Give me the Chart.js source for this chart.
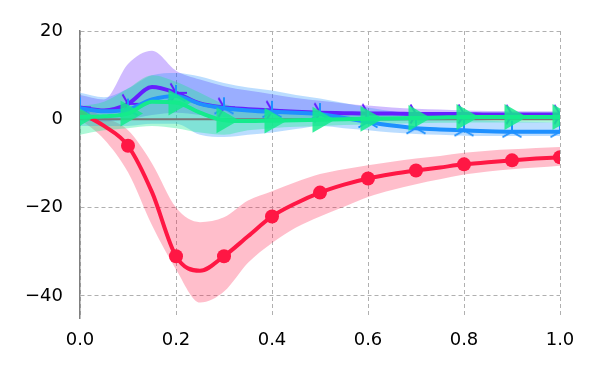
<!DOCTYPE html>
<html>
<head>
<meta charset="utf-8">
<script src="https://cdn.jsdelivr.net/npm/chart.js@4/dist/chart.umd.min.js"></script>
<style>
  html, body { margin: 0; padding: 0; background: #fff; }
  #wrap { width: 600px; height: 375px; }
</style>
</head>
<body>
<div id="wrap"><canvas id="chart" width="600" height="375"></canvas></div>
<script>
// x grid of the curves (markers sit on every other point)
const X = [0, 0.05, 0.1, 0.15, 0.2, 0.25, 0.3, 0.35, 0.4, 0.45, 0.5,
           0.55, 0.6, 0.65, 0.7, 0.75, 0.8, 0.85, 0.9, 0.95, 1.0];

const X_TICKS = [0, 0.2, 0.4, 0.6, 0.8, 1.0];
const Y_TICKS = [-40, -20, 0, 20];

// red (circles)
const redMean  = [1.5, -1.5, -6, -16.5, -31, -34.3, -31, -26.5, -22, -19, -16.6,
                  -14.8, -13.4, -12.4, -11.6, -10.9, -10.2, -9.7, -9.3, -8.9, -8.6];
const redUpper = [3, 0.5, -2.5, -10, -20, -23.3, -22.2, -18.4, -16.3, -14.2, -12.4,
                  -11.3, -10.4, -9.6, -8.9, -8.3, -7.6, -7.1, -6.8, -6.5, -6.3];
const redLower = [0, -4.5, -12, -24, -34, -41.5, -39, -32.5, -28, -24.5, -22,
                  -19.8, -17.6, -16, -14.7, -13.6, -12.5, -11.8, -11.3, -10.9, -10.5];

// purple (tri right)
const purpleMean  = [2.7, 2.0, 3.5, 7.3, 6.0, 3.6, 2.7, 2.3, 2.0, 1.7, 1.5,
                     1.4, 1.3, 1.3, 1.2, 1.2, 1.2, 1.1, 1.1, 1.1, 1.1];
const purpleUpper = [5.5, 4.5, 12.5, 15.5, 11, 9, 7.5, 6.5, 5.7, 4.8, 4.2,
                     3.6, 3.1, 2.7, 2.4, 2.2, 2, 1.9, 1.9, 1.8, 1.8];
const purpleLower = [0, -0.5, 0, 1, 1.5, 1, 0.5, 0, 0, 0, -0.2,
                     -0.3, -0.3, -0.3, -0.2, -0.2, -0.1, 0, 0, 0, 0];

// blue (tri up)
const blueMean  = [2.5, 1.8, 2.2, 4.5, 5.3, 3.5, 2.5, 2.0, 1.7, 1.5, 1.2,
                   0.3, -0.6, -1.4, -2.0, -2.3, -2.5, -2.7, -2.8, -2.8, -2.8];
const blueUpper = [6, 5, 7, 10, 10.5, 9.7, 8.2, 7.2, 6.5, 5.5, 4.7,
                   3.7, 2.7, 1.8, 1.0, 0.4, 0, -0.3, -0.5, -0.6, -0.7];
const blueLower = [-1.5, -1.5, -1.5, -1, -1, -3.5, -4, -3.5, -3, -2.2, -1.5,
                   -2, -2.5, -3, -3.3, -3.5, -3.7, -3.8, -3.8, -3.8, -3.8];

// green (triangles right)
const greenMean  = [0.5, 0.7, 1.3, 4.0, 3.8, 1.5, -0.2, -0.4, -0.3, -0.2, -0.1,
                    0, 0.1, 0.2, 0.3, 0.4, 0.5, 0.5, 0.5, 0.5, 0.5];
const greenUpper = [3, 4, 7, 10, 8.5, 6, 3.5, 2.3, 1.7, 1.3, 1.1,
                    1, 1.1, 1.2, 1.3, 1.4, 1.5, 1.5, 1.5, 1.5, 1.5];
const greenLower = [-3.5, -2.5, -2, -1.5, -2, -3, -3.5, -2.5, -2, -1.7, -1.5,
                    -1.3, -1.1, -1, -0.9, -0.8, -0.7, -0.7, -0.7, -0.7, -0.7];

const RED    = '#ff1744';
const PURPLE = '#651fff';
const BLUE   = '#1e90ff';
const GREEN  = '#14eb8c';

const pts = ys => X.map((x, i) => ({x, y: ys[i]}));
const everyOther = r => ctx => (ctx.dataIndex % 2 === 0 ? r : 0);

// tri markers (matplotlib style '2' and '4') drawn on small canvases
function triMarker(color, angles, arm) {
    const c = document.createElement('canvas');
    const s = Math.ceil(arm * 2 + 4);
    c.width = s; c.height = s;
    const g = c.getContext('2d');
    g.strokeStyle = color;
    g.lineWidth = 2;
    g.beginPath();
    angles.forEach(a => {
        const r = a * Math.PI / 180;
        g.moveTo(s / 2, s / 2);
        g.lineTo(s / 2 + Math.cos(r) * arm, s / 2 - Math.sin(r) * arm);
    });
    g.stroke();
    return c;
}
const triUp    = triMarker(BLUE,   [90, 210, 330], 11);
const triRight = triMarker(PURPLE, [0, 120, 240], 11);

function band(upper, lower, color, order) {
    return [
        { data: pts(upper), borderWidth: 0, pointRadius: 0, fill: '+1',
          backgroundColor: color, order, cubicInterpolationMode: 'monotone' },
        { data: pts(lower), borderWidth: 0, pointRadius: 0, fill: false,
          backgroundColor: color, order, cubicInterpolationMode: 'monotone' }
    ];
}

function line(ys, color, order, extra) {
    return Object.assign({
        data: pts(ys), borderColor: color, borderWidth: 4, fill: false,
        cubicInterpolationMode: 'monotone', order,
        pointHoverRadius: 0
    }, extra);
}

const datasets = [
    ...band(redUpper, redLower, 'rgba(255,23,68,0.28)', 8),
    ...band(purpleUpper, purpleLower, 'rgba(101,31,255,0.3)', 7),
    ...band(blueUpper, blueLower, 'rgba(30,144,255,0.3)', 6),
    ...band(greenUpper, greenLower, 'rgba(20,235,140,0.35)', 5),
    { data: [{x: 0, y: 0}, {x: 1, y: 0}], borderColor: '#777777', borderWidth: 2,
      pointRadius: 0, fill: false, order: 4 },
    line(redMean, RED, 3, {
        pointRadius: everyOther(7), pointBackgroundColor: RED,
        pointBorderWidth: 0, pointStyle: 'circle'
    }),
    line(purpleMean, PURPLE, 2, {
        pointRadius: everyOther(11), pointStyle: triRight
    }),
    line(blueMean, BLUE, 1, {
        pointRadius: everyOther(11), pointStyle: triUp
    }),
    line(greenMean, GREEN, 0, {
        pointRadius: everyOther(15), pointStyle: 'triangle', pointRotation: 90,
        pointBackgroundColor: 'rgba(20,235,140,0.85)', pointBorderWidth: 0
    })
];

const FONT = { family: 'DejaVu Sans', size: 18 };

new Chart(document.getElementById('chart'), {
    type: 'line',
    data: { datasets },
    options: {
        responsive: false,
        animation: false,
        layout: { padding: { left: 0, right: 40, top: 31, bottom: 0 } },
        plugins: { legend: { display: false }, tooltip: { enabled: false } },
        scales: {
            x: {
                type: 'linear', min: 0, max: 1,
                afterBuildTicks: s => { s.ticks = X_TICKS.map(v => ({value: v})); },
                afterFit: s => { s.height = 57; },
                ticks: { font: FONT, color: '#000', padding: 12, maxRotation: 0,
                         callback: v => v.toFixed(1) },
                grid: { color: '#b0b0b0', lineWidth: 1, drawTicks: false },
                border: { display: false, dash: [4, 3] }
            },
            y: {
                min: -45, max: 20,
                afterBuildTicks: s => { s.ticks = Y_TICKS.map(v => ({value: v})); },
                afterFit: s => { s.width = 80; },
                ticks: { font: FONT, color: '#000', padding: 17,
                         callback: v => (v < 0 ? '\u2212' + Math.abs(v) : String(v)) },
                grid: { color: '#b0b0b0', lineWidth: 1, drawTicks: false },
                border: { display: true, color: '#808080', width: 1.5, dash: [4, 3] }
            }
        }
    }
});
</script>
</body>
</html>
